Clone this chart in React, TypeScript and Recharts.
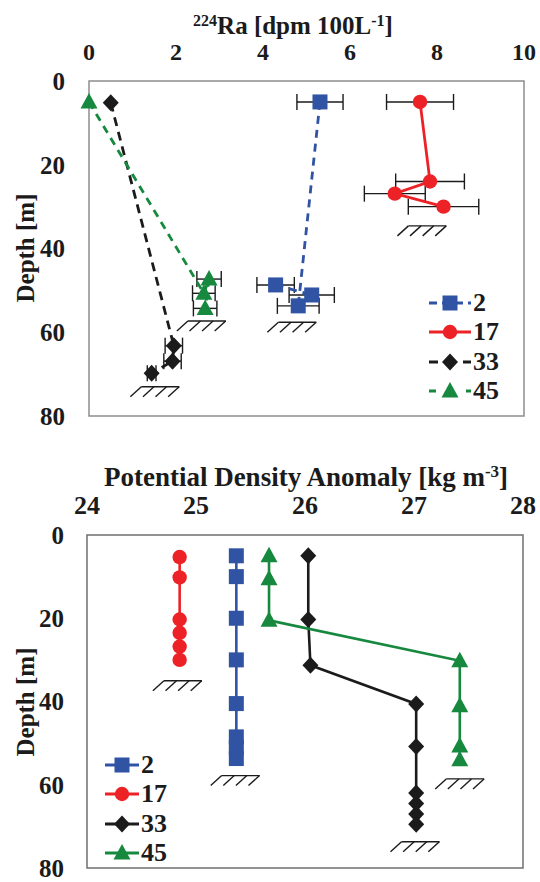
import React from "react";
import { ScatterChart, Scatter, XAxis, YAxis, ErrorBar, ReferenceArea } from "recharts";

const FONT = "'Liberation Serif', 'Times New Roman', serif";

const BLUE = "#3153a4";
const RED = "#ec2227";
const BLACK = "#1b1b1b";
const GREEN = "#16893f";

// ---- 224Ra panel (x = activity, y = depth) ----
const raTicks = [0, 2, 4, 6, 8, 10];
const depthTicks = [0, 20, 40, 60, 80];

const raDepth2 = [5, 53.7, 51.1, 48.7];
const ra2 = [5.31, 4.81, 5.12, 4.29];
const raErr2 = [0.53, 0.48, 0.52, 0.43];

const raDepth17 = [5, 24, 26.9, 30];
const ra17 = [7.61, 7.84, 7.03, 8.15];
const raErr17 = [0.77, 0.79, 0.7, 0.81];

const raDepth33 = [5.2, 63.2, 66.9, 69.8];
const ra33 = [0.5, 1.95, 1.92, 1.44];
const raErr33 = [0, 0.2, 0.2, 0.1];

const raDepth45 = [5, 50.7, 47.3, 54.3];
const ra45 = [0, 2.64, 2.76, 2.67];
const raErr45 = [0, 0.26, 0.28, 0.27];

// seafloor marks (station order 2, 17, 33, 45)
const raFloorX = [4.79, 7.78, 1.64, 2.71];
const raFloorDepth = [57.6, 34.6, 73, 57.3];

// ---- density panel ----
const sigmaTicks = [24, 25, 26, 27, 28];

const sgDepth2 = [5, 10, 20, 30, 40.5, 48.5, 51, 53.7];
const sg2 = [25.37, 25.37, 25.37, 25.37, 25.37, 25.37, 25.37, 25.37];

const sgDepth17 = [5.3, 10.2, 20.3, 23.5, 26.8, 30];
const sg17 = [24.85, 24.85, 24.85, 24.85, 24.85, 24.85];

const sgDepth33 = [5, 20.3, 31.3, 40.6, 50.8, 62, 64.5, 67, 69.5];
const sg33 = [26.03, 26.03, 26.05, 27.02, 27.02, 27.02, 27.02, 27.02, 27.02];

const sgDepth45 = [5, 10.5, 20.5, 30.2, 41, 50.7, 54];
const sg45 = [25.67, 25.67, 25.67, 27.42, 27.42, 27.42, 27.42];

const sgFloorX = [25.41, 24.88, 27.06, 27.47];
const sgFloorDepth = [57.8, 35, 73.7, 58.6];

const stations = ["2", "17", "33", "45"];

function rows(xs: number[], ys: number[], errs?: number[]) {
  return xs.map((x, i) => ({ x, y: ys[i], err: errs ? errs[i] : 0 }));
}

function Mark({ cx, cy, kind, color }: any) {
  if (cx == null || cy == null) return null;
  if (kind === "square") return <rect x={cx - 7.5} y={cy - 7.5} width={15} height={15} fill={color} />;
  if (kind === "circle") return <circle cx={cx} cy={cy} r={7.2} fill={color} />;
  if (kind === "diamond")
    return <polygon points={`${cx},${cy - 8.5} ${cx + 8},${cy} ${cx},${cy + 8.5} ${cx - 8},${cy}`} fill={color} />;
  return <polygon points={`${cx},${cy - 9} ${cx + 8.5},${cy + 6.5} ${cx - 8.5},${cy + 6.5}`} fill={color} />;
}

function Hatch({ cx, cy }: any) {
  if (cx == null || cy == null) return null;
  const left = cx - 19;
  return (
    <g stroke="#1b1b1b" strokeWidth={1.4} fill="none">
      <line x1={left} y1={cy} x2={cx + 19} y2={cy} />
      {[0, 1, 2, 3].map((i) => (
        <line key={i} x1={left + i * 12.6} y1={cy} x2={left + i * 12.6 - 11} y2={cy + 10} />
      ))}
    </g>
  );
}

const kinds = ["square", "circle", "diamond", "triangle"];
const colors = [BLUE, RED, BLACK, GREEN];

function LegendBox({ left, top, dashes, lineW, fontSize }: any) {
  return (
    <div style={{ position: "absolute", left, top, fontFamily: FONT, fontWeight: "bold", fontSize }}>
      {stations.map((s, i) => (
        <div key={s} style={{ display: "flex", alignItems: "center", height: 29.5 }}>
          <svg width={lineW + 2} height={24} style={{ display: "block" }}>
            <line x1={0} y1={12} x2={lineW} y2={12} stroke={colors[i]} strokeWidth={3} strokeDasharray={dashes[i]} />
            <Mark cx={lineW / 2} cy={12} kind={kinds[i]} color={colors[i]} />
          </svg>
          <span style={{ lineHeight: "24px", color: "#1b1b1b" }}>{s}</span>
        </div>
      ))}
    </div>
  );
}

const tickStyle = (size: number) => ({ fontSize: size, fontWeight: "bold", fill: "#1b1b1b", fontFamily: FONT });

export default function App() {
  const raSeries = [
    { data: rows(ra2, raDepth2, raErr2), dash: "8 6" },
    { data: rows(ra17, raDepth17, raErr17), dash: undefined },
    { data: rows(ra33, raDepth33, raErr33), dash: "9 6" },
    { data: rows(ra45, raDepth45, raErr45), dash: "8 6" },
  ];
  const sgSeries = [
    rows(sg2, sgDepth2),
    rows(sg17, sgDepth17),
    rows(sg33, sgDepth33),
    rows(sg45, sgDepth45),
  ];

  return (
    <div style={{ position: "absolute", left: 0, top: 0, width: 540, height: 882, background: "#fff" }}>
      {/* top panel */}
      <div
        style={{
          position: "absolute", left: 293, top: 8, transform: "translateX(-50%)",
          fontFamily: FONT, fontWeight: "bold", fontSize: 25, lineHeight: "25px", whiteSpace: "nowrap", color: "#1b1b1b",
        }}
      >
        <span style={{ fontSize: 16, verticalAlign: "8px" }}>224</span>Ra [dpm 100L
        <span style={{ fontSize: 16, verticalAlign: "8px" }}>-1</span>]
      </div>
      <div
        style={{
          position: "absolute", left: 25, top: 248, transform: "translate(-50%, -50%) rotate(-90deg)",
          fontFamily: FONT, fontWeight: "bold", fontSize: 25, lineHeight: "25px", whiteSpace: "nowrap", color: "#1b1b1b",
        }}
      >
        Depth [m]
      </div>
      <div style={{ position: "absolute", left: 0, top: 0 }}>
        <ScatterChart width={540} height={440} margin={{ top: 51, right: 16, bottom: 24, left: 29 }}>
          <XAxis type="number" dataKey="x" orientation="top" domain={[0, 10]} ticks={raTicks} interval={0}
            axisLine={false} tickLine={false} tickSize={0} tickMargin={21} height={30} tick={tickStyle(24)} />
          <YAxis type="number" dataKey="y" reversed domain={[0, 80]} ticks={depthTicks} interval={0}
            axisLine={false} tickLine={false} tickSize={0} tickMargin={24} width={60} tick={tickStyle(25)} />
          <ReferenceArea x1={0} x2={10} y1={0} y2={80} fill="none" stroke="#8d8d8d" strokeWidth={1.5} />
          <Scatter data={rows(raFloorX, raFloorDepth)} shape={(p: any) => <Hatch {...p} />} isAnimationActive={false} />
          {raSeries.map((s, i) => (
            <Scatter key={i} data={s.data} line={{ stroke: colors[i], strokeWidth: 2.8, strokeDasharray: s.dash }}
              lineType="joint" shape={(p: any) => <Mark {...p} kind={kinds[i]} color={colors[i]} />} isAnimationActive={false}>
              <ErrorBar dataKey="err" direction="x" width={8} stroke="#1b1b1b" strokeWidth={1.4} />
            </Scatter>
          ))}
        </ScatterChart>
      </div>
      <LegendBox left={429} top={288} lineW={42} fontSize={26} dashes={["8 5", undefined, "9 25", "7 30"]} />

      {/* bottom panel */}
      <div
        style={{
          position: "absolute", left: 306, top: 458, transform: "translateX(-50%)",
          fontFamily: FONT, fontWeight: "bold", fontSize: 27, lineHeight: "27px", whiteSpace: "nowrap", color: "#1b1b1b",
        }}
      >
        Potential Density Anomaly [kg m<span style={{ fontSize: 17, verticalAlign: "9px" }}>-3</span>]
      </div>
      <div
        style={{
          position: "absolute", left: 25, top: 702, transform: "translate(-50%, -50%) rotate(-90deg)",
          fontFamily: FONT, fontWeight: "bold", fontSize: 25, lineHeight: "25px", whiteSpace: "nowrap", color: "#1b1b1b",
        }}
      >
        Depth [m]
      </div>
      <div style={{ position: "absolute", left: 0, top: 440 }}>
        <ScatterChart width={540} height={442} margin={{ top: 65, right: 17, bottom: 14, left: 27 }}>
          <XAxis type="number" dataKey="x" orientation="top" domain={[24, 28]} ticks={sigmaTicks} interval={0}
            axisLine={false} tickLine={false} tickSize={0} tickMargin={21} height={30} tick={tickStyle(26)} />
          <YAxis type="number" dataKey="y" reversed domain={[0, 80]} ticks={depthTicks} interval={0}
            axisLine={false} tickLine={false} tickSize={0} tickMargin={23} width={60} tick={tickStyle(25)} />
          <ReferenceArea x1={24} x2={28} y1={0} y2={80} fill="none" stroke="#6f6f6f" strokeWidth={1.5} />
          <Scatter data={rows(sgFloorX, sgFloorDepth)} shape={(p: any) => <Hatch {...p} />} isAnimationActive={false} />
          {sgSeries.map((d, i) => (
            <Scatter key={i} data={d} line={{ stroke: colors[i], strokeWidth: 2.6 }} lineType="joint"
              shape={(p: any) => <Mark {...p} kind={kinds[i]} color={colors[i]} />} isAnimationActive={false} />
          ))}
        </ScatterChart>
      </div>
      <LegendBox left={105} top={750} lineW={34} fontSize={26} dashes={[undefined, undefined, undefined, undefined]} />
    </div>
  );
}
